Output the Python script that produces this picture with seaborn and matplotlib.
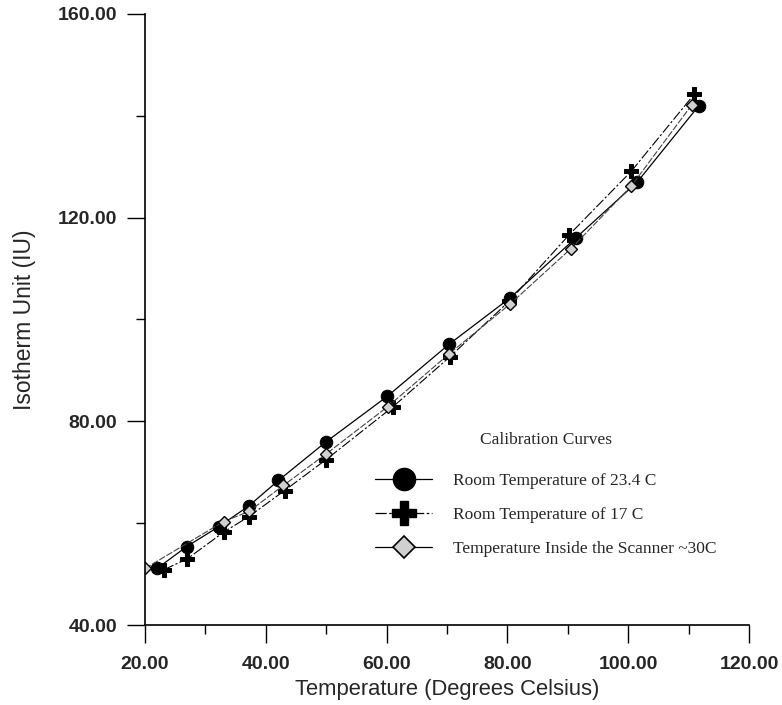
import numpy as np
import pandas as pd
import matplotlib
matplotlib.use("Agg")
import matplotlib.pyplot as plt
from matplotlib.lines import Line2D
from matplotlib.ticker import MultipleLocator, FormatStrFormatter
import seaborn as sns

# ---- data ----
room234_x = [22.0, 26.9, 32.2, 37.2, 42.1, 49.9, 60.1, 70.3, 80.4, 91.4, 101.5, 111.7]
room234_y = [51.1, 55.4, 59.3, 63.4, 68.4, 75.9, 84.9, 95.1, 104.2, 116.1, 127.0, 142.0]

room17_x = [23.2, 27.0, 33.1, 37.2, 43.1, 50.0, 61.0, 70.5, 80.3, 90.2, 100.5, 110.9]
room17_y = [50.9, 53.0, 58.3, 61.3, 66.4, 72.5, 82.8, 92.7, 103.6, 116.6, 129.1, 144.2]

scan_x = [20.0, 33.0, 37.2, 42.9, 50.0, 60.2, 70.3, 80.5, 90.5, 100.5, 110.5]
scan_y = [51.1, 60.3, 62.3, 67.4, 73.6, 82.9, 93.2, 103.1, 113.9, 126.2, 142.1]

labels = ["Room Temperature of 23.4 C",
          "Room Temperature of 17 C",
          "Temperature Inside the Scanner ~30C"]

sns.set_style("ticks")
plt.rcParams["font.family"] = ["Liberation Sans", "DejaVu Sans"]

fig = plt.figure(figsize=(7.82, 7.05), dpi=100)
ax = fig.add_axes([145 / 782, 80 / 705, (749 - 145) / 782, (625 - 14) / 705])

df1 = pd.DataFrame({"x": room234_x, "y": room234_y})
df2 = pd.DataFrame({"x": room17_x, "y": room17_y})
df3 = pd.DataFrame({"x": scan_x, "y": scan_y})

sns.lineplot(data=df1, x="x", y="y", ax=ax, estimator=None, sort=False,
             color="black", lw=0.9, marker="o", markersize=9,
             markerfacecolor="black", markeredgecolor="black")
sns.lineplot(data=df2, x="x", y="y", ax=ax, estimator=None, sort=False,
             color="black", lw=0.8, marker="P", markersize=9.5,
             markerfacecolor="black", markeredgecolor="black")
ax.lines[-1].set_dashes([9, 2, 2, 2])
sns.lineplot(data=df3, x="x", y="y", ax=ax, estimator=None, sort=False,
             color="#444444", lw=0.8, marker="D", markersize=6,
             markerfacecolor="#d0d0d0", markeredgecolor="black",
             markeredgewidth=1.0)
ax.lines[-1].set_dashes([6, 1.5])

ax.set_xlim(20, 120)
ax.set_ylim(40, 160)
ax.xaxis.set_major_locator(MultipleLocator(20))
ax.xaxis.set_minor_locator(MultipleLocator(10))
ax.yaxis.set_major_locator(MultipleLocator(40))
ax.yaxis.set_minor_locator(MultipleLocator(20))
ax.xaxis.set_major_formatter(FormatStrFormatter("%.2f"))
ax.yaxis.set_major_formatter(FormatStrFormatter("%.2f"))

ax.tick_params(axis="both", which="major", direction="out", length=13,
               width=1.0, color="black", labelsize=14, pad=7)
ax.tick_params(axis="x", which="major", pad=9)
ax.tick_params(axis="both", which="minor", direction="out", length=6.5,
               width=1.0, color="black")
for lab in ax.get_xticklabels() + ax.get_yticklabels():
    lab.set_fontweight("bold")

sns.despine(ax=ax)
for s in ["left", "bottom"]:
    ax.spines[s].set_linewidth(1.2)
    ax.spines[s].set_color("black")

ax.set_xlabel("Temperature (Degrees Celsius)", fontsize=15.8, labelpad=5)
ax.set_ylabel("Isotherm Unit (IU)", fontsize=16.5, labelpad=16)

handles = [
    Line2D([], [], color="black", lw=0.9, marker="o", markersize=16,
           markerfacecolor="black", markeredgecolor="black"),
    Line2D([], [], color="black", lw=0.9, marker="P", markersize=17,
           markerfacecolor="black", markeredgecolor="black", dashes=[9, 2, 2, 2]),
    Line2D([], [], color="black", lw=0.9, marker="D", markersize=11,
           markerfacecolor="#d0d0d0", markeredgecolor="black", markeredgewidth=1.2),
]
leg = ax.legend(handles, labels, title="Calibration Curves",
                loc="upper left", bbox_to_anchor=(363 / 782, 1 - 420 / 705),
                bbox_transform=fig.transFigure, frameon=False,
                prop={"family": "Liberation Serif", "size": 12.5},
                title_fontproperties={"family": "Liberation Serif", "size": 12.5},
                handlelength=3.3, handletextpad=1.2, labelspacing=1.05,
                borderpad=0.2)
leg._legend_box.sep = 17.5

fig.savefig("out.png", dpi=100)
